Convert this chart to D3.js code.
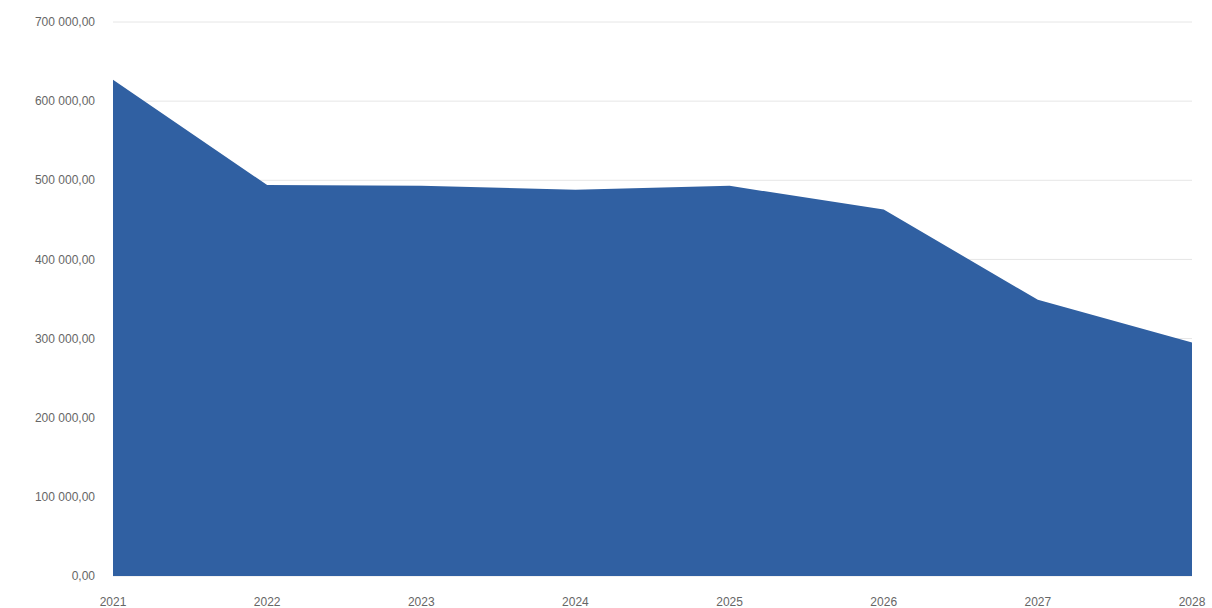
<!DOCTYPE html>
<html>
<head>
<meta charset="utf-8">
<script src="https://cdn.jsdelivr.net/npm/d3@7"></script>
<style>
  body { margin: 0; background: #fff; }
  text { font-family: "Liberation Sans", Arial, sans-serif; }
</style>
</head>
<body>
<div id="viz"></div>
<script>
// Data
const years = [2021, 2022, 2023, 2024, 2025, 2026, 2027, 2028];
const values = [627000, 494000, 493000, 488000, 493000, 463000, 349000, 295000];
const yTicks = [0, 100000, 200000, 300000, 400000, 500000, 600000, 700000];

const W = 1212, H = 608;
const margin = { top: 22, right: 20, bottom: 32, left: 113 };
const width = W - margin.left - margin.right;
const height = H - margin.top - margin.bottom;

const locale = d3.formatLocale({ decimal: ',', thousands: '\u00a0', grouping: [3], currency: ['', ''] });
const fmt = locale.format(',.2f');

const svg = d3.select('#viz')
  .append('svg')
  .attr('width', W)
  .attr('height', H)
  .append('g')
  .attr('transform', `translate(${margin.left},${margin.top})`);

const x = d3.scaleLinear().domain([2021, 2028]).range([0, width]);
const y = d3.scaleLinear().domain([0, 700000]).range([height, 0]);

// Gridlines
svg.append('g')
  .selectAll('line')
  .data(yTicks)
  .enter()
  .append('line')
  .attr('x1', 0)
  .attr('x2', width)
  .attr('y1', d => y(d))
  .attr('y2', d => y(d))
  .attr('stroke', '#e6e6e6')
  .attr('stroke-width', 1);

// Area
const area = d3.area()
  .x((d, i) => x(years[i]))
  .y0(y(0))
  .y1(d => y(d));

svg.append('path')
  .datum(values)
  .attr('d', area)
  .attr('fill', '#3060a2');

// Y axis labels
svg.append('g')
  .selectAll('text')
  .data(yTicks)
  .enter()
  .append('text')
  .attr('x', -18)
  .attr('y', d => y(d))
  .attr('dy', '0.35em')
  .attr('text-anchor', 'end')
  .attr('font-size', 12)
  .attr('fill', '#666')
  .text(d => fmt(d));

// X axis labels
svg.append('g')
  .selectAll('text')
  .data(years)
  .enter()
  .append('text')
  .attr('x', d => x(d))
  .attr('y', height + 30)
  .attr('text-anchor', 'middle')
  .attr('font-size', 12)
  .attr('fill', '#666')
  .text(d => d);
</script>
</body>
</html>
